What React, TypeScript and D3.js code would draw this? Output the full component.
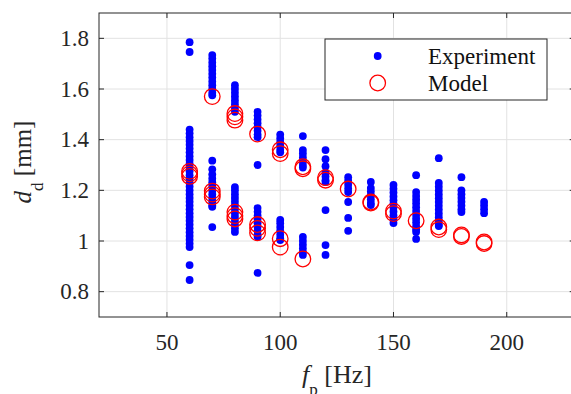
import React from "react";
import * as d3 from "d3";

const freqs = [60, 70, 80, 90, 100, 110, 120, 130, 140, 150, 160, 170, 180, 190];

const experiment: number[][] = [
  [1.785, 1.746, 1.44, 1.425, 1.41, 1.395, 1.38, 1.365, 1.35, 1.335, 1.32, 1.305, 1.29, 1.275, 1.26, 1.245, 1.23, 1.215, 1.2, 1.185, 1.17, 1.155, 1.14, 1.125, 1.11, 1.095, 1.08, 1.065, 1.05, 1.035, 1.02, 1.005, 0.99, 0.976, 0.905, 0.846],
  [1.734, 1.72, 1.705, 1.69, 1.675, 1.66, 1.645, 1.63, 1.615, 1.6, 1.585, 1.575, 1.317, 1.283, 1.263, 1.247, 1.232, 1.217, 1.2, 1.185, 1.17, 1.155, 1.14, 1.135, 1.055],
  [1.615, 1.6, 1.585, 1.57, 1.555, 1.54, 1.525, 1.51, 1.213, 1.2, 1.185, 1.17, 1.155, 1.14, 1.125, 1.11, 1.095, 1.08, 1.065, 1.05, 1.036],
  [1.51, 1.495, 1.48, 1.465, 1.45, 1.435, 1.42, 1.41, 1.3, 1.13, 1.115, 1.1, 1.085, 1.07, 1.055, 1.04, 1.025, 1.016, 0.874],
  [1.42, 1.405, 1.39, 1.375, 1.36, 1.35, 1.083, 1.07, 1.055, 1.04, 1.025, 1.01, 1.004],
  [1.414, 1.359, 1.345, 1.33, 1.315, 1.3, 1.29, 1.016, 1.0, 0.985, 0.97, 0.955, 0.945],
  [1.359, 1.323, 1.295, 1.27, 1.255, 1.24, 1.233, 1.122, 0.984, 0.945],
  [1.252, 1.237, 1.222, 1.207, 1.193, 1.154, 1.091, 1.04],
  [1.233, 1.209, 1.195, 1.18, 1.165, 1.15, 1.142],
  [1.221, 1.206, 1.191, 1.176, 1.161, 1.146, 1.131, 1.116, 1.101, 1.086, 1.071],
  [1.26, 1.193, 1.178, 1.163, 1.148, 1.133, 1.118, 1.103, 1.088, 1.073, 1.058, 1.045, 1.036, 1.008],
  [1.327, 1.229, 1.214, 1.199, 1.184, 1.169, 1.154, 1.139, 1.124, 1.109, 1.094, 1.079, 1.064, 1.059],
  [1.252, 1.2, 1.185, 1.17, 1.155, 1.14, 1.125, 1.114],
  [1.154, 1.14, 1.125, 1.11],
];

const model: number[][] = [
  [1.275, 1.265, 1.255],
  [1.57, 1.197, 1.185, 1.174],
  [1.503, 1.49, 1.477, 1.114, 1.1, 1.087],
  [1.422, 1.065, 1.05, 1.032],
  [1.36, 1.345, 1.009, 0.976],
  [1.293, 1.285, 0.929],
  [1.25, 1.24],
  [1.205],
  [1.154, 1.15],
  [1.118, 1.108],
  [1.08],
  [1.055, 1.045],
  [1.024, 1.018],
  [0.996, 0.99],
];

const xTicks = [50, 100, 150, 200];
const yTicks = [0.8, 1.0, 1.2, 1.4, 1.6, 1.8];
const yTickLabels = ["0.8", "1", "1.2", "1.4", "1.6", "1.8"];
const legendLabels = ["Experiment", "Model"];

const W = 571;
const H = 394;
const left = 99;
const top = 13;
const bottom = 317;

const x = d3.scaleLinear().domain([20, 230]).range([left, 574.7]);
const y = d3.scaleLinear().domain([0.7, 1.9]).range([bottom, top]);

const FONT = "Liberation Serif, Times New Roman, Times, DejaVu Serif, serif";
const AX = "#262626";

export default function App() {
  const right = x(230);
  const expPts = freqs.flatMap((f, i) => experiment[i].map((v) => [f, v]));
  const modPts = freqs.flatMap((f, i) => model[i].map((v) => [f, v]));
  const ts = { fontFamily: FONT };
  return (
    <svg
      width={W}
      height={H}
      style={{ position: "absolute", left: 0, top: 0, background: "#fff", fontFamily: FONT }}
    >
      <rect x={0} y={0} width={W} height={H} fill="#fff" />
      {xTicks.map((t) => (
        <line key={"gx" + t} x1={x(t)} x2={x(t)} y1={top} y2={bottom} stroke="#e2e2e2" strokeWidth={1} />
      ))}
      {yTicks.map((t) => (
        <line key={"gy" + t} x1={left} x2={right} y1={y(t)} y2={y(t)} stroke="#e2e2e2" strokeWidth={1} />
      ))}
      {expPts.map(([f, v], i) => (
        <circle key={"e" + i} cx={x(f)} cy={y(v)} r={3.9} fill="#0000ff" />
      ))}
      {modPts.map(([f, v], i) => (
        <circle key={"m" + i} cx={x(f)} cy={y(v)} r={7.8} fill="none" stroke="#ff0000" strokeWidth={1.3} />
      ))}
      <rect x={left} y={top} width={right - left} height={bottom - top} fill="none" stroke={AX} strokeWidth={1} />
      {xTicks.map((t) => (
        <g key={"tx" + t}>
          <line x1={x(t)} x2={x(t)} y1={bottom} y2={bottom - 5} stroke={AX} />
          <line x1={x(t)} x2={x(t)} y1={top} y2={top + 5} stroke={AX} />
          <text x={x(t)} y={350} textAnchor="middle" fontSize={23} fill={AX} style={ts}>
            {t}
          </text>
        </g>
      ))}
      {yTicks.map((t, i) => (
        <g key={"ty" + t}>
          <line x1={left} x2={left + 5} y1={y(t)} y2={y(t)} stroke={AX} />
          <line x1={right} x2={right - 5} y1={y(t)} y2={y(t)} stroke={AX} />
          <text x={89} y={y(t)} dy="0.33em" textAnchor="end" fontSize={23} fill={AX} style={ts}>
            {yTickLabels[i]}
          </text>
        </g>
      ))}
      <text x={337} y={383} textAnchor="middle" fontSize={26} fill={AX} style={ts}>
        <tspan fontStyle="italic">f</tspan>
        <tspan fontSize={17} dy={12}>p</tspan>
        <tspan dy={-12}> [Hz]</tspan>
      </text>
      <text transform="translate(31,162) rotate(-90)" textAnchor="middle" fontSize={25} fill={AX} style={ts}>
        <tspan fontStyle="italic">d</tspan>
        <tspan fontSize={17} dy={12}>d</tspan>
        <tspan dy={-12}> [mm]</tspan>
      </text>
      <rect x={325} y={39} width={222} height={61} fill="#fff" stroke={AX} strokeWidth={1} />
      <circle cx={377.7} cy={56} r={3.9} fill="#0000ff" />
      <circle cx={377.7} cy={83} r={7.8} fill="none" stroke="#ff0000" strokeWidth={1.3} />
      <text x={428} y={56} dy="0.33em" fontSize={23} fill="#111" style={ts}>
        {legendLabels[0]}
      </text>
      <text x={428} y={83} dy="0.33em" fontSize={23} fill="#111" style={ts}>
        {legendLabels[1]}
      </text>
    </svg>
  );
}
